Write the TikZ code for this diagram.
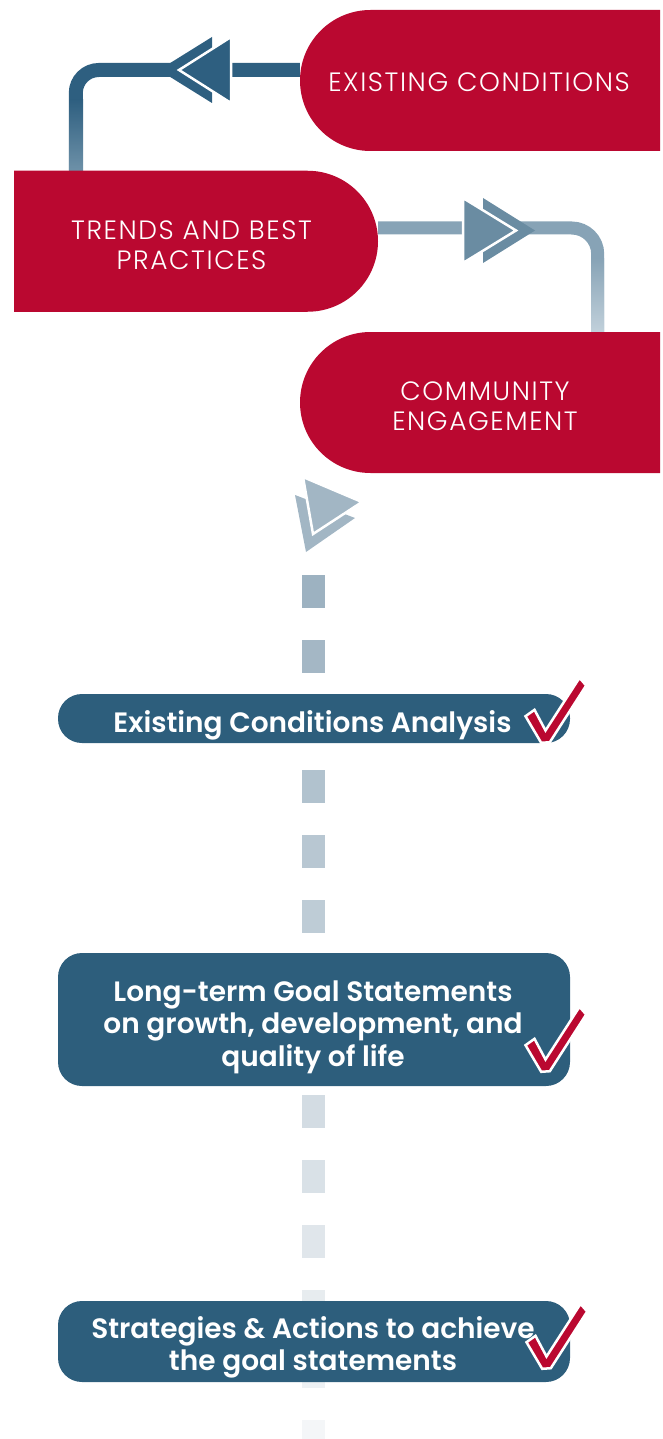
\documentclass[tikz,border=0pt]{standalone}
\usepackage{fontspec}
\newfontfamily\lightf{Poppins Light}[LetterSpace=6]
\newfontfamily\semif{Poppins SemiBold}
\usetikzlibrary{shapes.misc}
\pgfdeclarelayer{bg}
\pgfsetlayers{bg,main}
\definecolor{cred}{HTML}{BA0830}
\definecolor{cblue}{HTML}{2D5E7C}
\definecolor{conedark}{HTML}{2E5F80}
\definecolor{conelight}{HTML}{6F92A9}
\definecolor{ctwotop}{HTML}{87A3B6}
\definecolor{ctwobot}{HTML}{C2D1DB}
\definecolor{arrtwo}{HTML}{6A8CA2}
\definecolor{arrthree}{HTML}{A2B6C4}
\definecolor{dashtop}{HTML}{9DB2C1}
\definecolor{dashbot}{HTML}{F4F6F8}
\tikzset{
  redpill/.style={rounded rectangle, fill=cred, inner sep=0pt, minimum width=360pt, minimum height=141pt},
  toptext/.style={text=white, font=\lightf\fontsize{26.5}{30}\selectfont, inner sep=0pt, anchor=base},
  bluebox/.style={fill=cblue, inner sep=0pt, minimum width=512pt},
  boxtext/.style={text=white, font=\semif\fontsize{28}{32}\selectfont, inner sep=0pt, anchor=base},
  headfront/.style={draw=white, line width=2.5pt, line join=miter},
  chk/.pic={\fill[cred, draw=white, line width=2.5pt, line join=miter]
     (-15,-26.3) -- (-6,-32.7) -- (5,-12) -- (39,-64.7) -- (45.7,-57) -- (9.3,-0.3) -- (0.7,0.3) -- cycle;}
}
\begin{document}
\begin{tikzpicture}[x=1pt,y=-1pt]
\useasboundingbox (0,0) rectangle (663,1439);
% red shapes
\node[redpill, rounded rectangle right arc=none] (ec) at (480,80.5) {};
\node[redpill, rounded rectangle left arc=none, minimum width=364pt] (tb) at (196,241.25) {};
\node[redpill, rounded rectangle right arc=none] (ce) at (480,402.5) {};
\node[toptext] (ect) at (479,92) {EXISTING CONDITIONS};
\node[toptext] (tbt1) at (191.5,239.5) {TRENDS AND BEST};
\node[toptext] (tbt2) at (191.5,269.5) {PRACTICES};
\node[toptext] (cet1) at (485,400) {COMMUNITY};
\node[toptext] (cet2) at (485,430) {ENGAGEMENT};
% blue boxes
\node[bluebox, minimum height=49pt, rounded corners=24pt] (b1) at (314,718.5) {};
\node[bluebox, minimum height=133pt, rounded corners=24pt] (b2) at (314,1019.5) {};
\node[bluebox, minimum height=81pt, rounded corners=24pt] (b3) at (314,1341.5) {};
\node[boxtext] (b1t) at (312.5,732) {Existing Conditions Analysis};
\node[boxtext] (b2t1) at (313,1001) {Long-term Goal Statements};
\node[boxtext] (b2t2) at (313,1033.5) {on growth, development, and};
\node[boxtext] (b2t3) at (313,1066) {quality of life};
\node[boxtext] (b3t1) at (313,1338.5) {Strategies \& Actions to achieve};
\node[boxtext] (b3t2) at (313,1370.5) {the goal statements};
% connectors
\begin{pgfonlayer}{bg}
  \draw[conedark, line width=14pt, rounded corners=23pt]
    ([yshift=10.5pt]ec.west) -| ([xshift=62pt]tb.north west);
  \shade[top color=conedark, bottom color=conelight] (69,100) rectangle (83,172);
  \draw[ctwotop, line width=13pt, rounded corners=26pt]
    ([yshift=13.25pt]tb.east) -| ([xshift=-62.5pt]ce.north east);
  \shade[top color=ctwotop, bottom color=ctwobot] (591,258) rectangle (604,333);
  \foreach \k in {0,...,13}{
    \pgfmathsetmacro{\pc}{100-100*\k/13}
    \pgfmathsetmacro{\yy}{575+65*\k}
    \fill[dashtop!\pc!dashbot] (302,\yy) rectangle (325,\yy+33);
  }
\end{pgfonlayer}
% arrowheads
\fill[conedark] (212,37) -- (212,103) -- (159,70) -- cycle;
\fill[conedark, headfront] (231,37) -- (231,103) -- (179,70) -- cycle;
\fill[arrtwo] (483,198) -- (483,263) -- (535,230.5) -- cycle;
\fill[arrtwo, headfront] (463,198) -- (463,263) -- (516,230.5) -- cycle;
\fill[arrthree] (295,495) -- (355,518) -- (306,552) -- cycle;
\fill[arrthree, headfront] (303,477) -- (362,502) -- (313,534) -- cycle;
% check marks
\pic at (540.5,742.5) {chk};
\pic at (540.5,1071.5) {chk};
\pic at (541.5,1368.5) {chk};
\end{tikzpicture}
\end{document}
